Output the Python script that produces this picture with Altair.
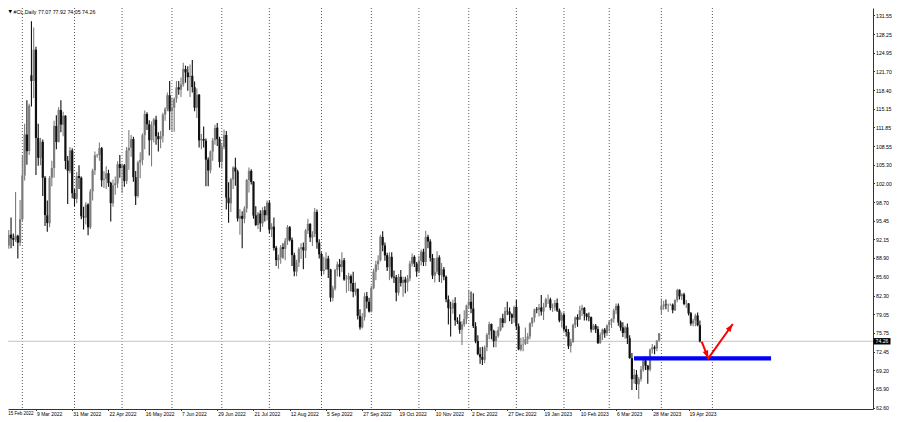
import math
import altair as alt
import pandas as pd

# ---------------- data (daily OHLC, #CL) ----------------
opens = [
    95.0, 92.1, 93.7, 91.8, 91.1, 93.0, 92.4, 92.1, 92.8, 91.6,
    95.7, 103.4, 110.6, 107.7, 121.0, 120.0, 125.5, 110.0, 106.5, 109.3,
    103.0, 96.4, 95.0, 103.0, 104.7, 112.1, 109.3, 114.9, 112.3, 113.9,
    106.0, 104.2, 107.8, 100.3, 99.3, 103.3, 103.0, 96.2, 96.0, 98.3,
    94.3, 100.6, 104.3, 106.9, 107.0, 108.2, 102.6, 102.8, 103.8, 102.1,
    98.5, 101.7, 102.0, 105.4, 104.7, 105.2, 102.4, 107.8, 108.3, 109.8,
    103.1, 99.8, 105.7, 106.1, 110.5, 114.2, 112.4, 109.6, 112.2, 113.2,
    110.3, 109.8, 110.3, 114.1, 115.1, 117.5, 114.7, 115.3, 116.9, 118.9,
    118.5, 119.4, 122.1, 121.5, 120.7, 120.9, 118.9, 115.3, 117.6, 109.6,
    109.8, 109.5, 106.2, 104.3, 107.6, 109.6, 111.8, 109.8, 105.8, 108.4,
    110.5, 99.5, 98.5, 102.7, 104.8, 104.1, 95.8, 96.3, 95.8, 97.6,
    102.6, 104.2, 102.3, 96.4, 94.7, 96.7, 95.0, 97.3, 96.4, 98.6,
    93.9, 94.4, 90.7, 88.5, 89.0, 90.8, 90.5, 91.9, 94.3, 92.1,
    89.4, 86.5, 88.1, 90.5, 90.8, 90.2, 93.7, 94.9, 92.5, 93.1,
    97.0, 91.6, 89.6, 86.6, 86.9, 88.8, 86.9, 81.9, 83.5, 86.8,
    87.8, 87.3, 88.5, 85.1, 85.1, 85.7, 84.5, 82.9, 83.5, 78.7,
    76.7, 78.5, 82.2, 81.2, 79.5, 83.6, 86.5, 87.8, 88.5, 92.6,
    91.1, 89.4, 87.3, 89.1, 85.6, 85.5, 82.8, 85.6, 84.5, 85.1,
    84.6, 85.3, 87.9, 89.1, 87.9, 86.5, 88.4, 90.0, 88.2, 92.6,
    91.8, 88.9, 85.8, 86.5, 89.0, 85.9, 86.9, 85.6, 81.6, 80.1,
    80.0, 81.0, 77.9, 77.7, 76.3, 77.2, 78.2, 80.6, 81.2, 80.0,
    76.9, 74.3, 72.0, 71.5, 71.0, 73.2, 75.4, 77.3, 76.1, 74.3,
    75.2, 76.2, 78.3, 77.5, 79.6, 79.5, 79.0, 78.4, 80.3, 76.9,
    72.8, 73.7, 73.8, 74.6, 75.1, 77.4, 78.4, 79.9, 79.8, 80.2,
    79.5, 80.3, 81.6, 81.6, 80.1, 80.2, 81.0, 79.7, 77.9, 78.9,
    76.4, 75.9, 73.4, 74.1, 77.1, 78.5, 78.1, 79.7, 80.1, 79.1,
    78.6, 78.5, 76.3, 77.0, 76.4, 74.0, 75.4, 76.3, 75.7, 77.1,
    77.7, 78.2, 79.7, 80.5, 77.6, 76.7, 75.7, 76.7, 74.8, 71.3,
    67.6, 68.4, 66.7, 67.6, 69.3, 70.9, 70.0, 69.3, 72.8, 73.2,
    73.0, 74.4, 79.8, 80.4, 80.7, 80.6, 80.7, 80.7, 79.7, 81.5,
    83.3, 82.2, 82.5, 80.8, 80.9, 79.2, 77.4, 77.9, 78.8, 77.07,
]
highs = [
    95.1, 94.0, 93.9, 92.3, 93.8, 96.0, 93.2, 100.5, 93.0, 99.1,
    106.8, 112.5, 116.6, 116.0, 130.5, 129.4, 126.0, 112.5, 110.0, 109.7,
    103.3, 99.0, 103.3, 106.0, 113.0, 114.0, 115.4, 116.6, 114.6, 114.0,
    106.8, 108.4, 108.2, 101.0, 104.0, 105.2, 103.2, 97.9, 98.7, 98.5,
    101.0, 104.6, 107.6, 107.2, 109.2, 108.4, 104.2, 105.0, 104.4, 102.3,
    102.7, 103.2, 105.9, 107.0, 105.5, 105.4, 108.4, 111.4, 110.5, 110.2,
    104.2, 106.0, 107.5, 110.8, 114.8, 114.5, 113.1, 112.9, 113.5, 113.9,
    111.0, 111.2, 114.4, 115.4, 118.0, 120.0, 117.1, 117.1, 120.0, 120.0,
    120.6, 123.2, 122.7, 122.6, 122.9, 123.7, 119.9, 118.7, 117.7, 110.7,
    112.0, 109.9, 106.6, 107.8, 110.0, 112.3, 112.6, 110.2, 109.0, 111.5,
    111.2, 102.2, 103.0, 105.0, 106.5, 104.4, 97.5, 97.1, 98.0, 102.8,
    104.8, 104.5, 102.4, 98.0, 97.0, 97.3, 97.8, 98.0, 99.0, 99.0,
    95.0, 96.0, 91.0, 89.5, 91.2, 91.5, 92.4, 94.7, 94.5, 92.5,
    89.8, 88.6, 90.8, 91.5, 91.6, 94.0, 95.8, 95.0, 93.6, 97.7,
    97.4, 92.2, 89.9, 89.1, 89.9, 89.3, 87.0, 84.0, 87.0, 88.3,
    88.7, 89.9, 88.9, 85.9, 86.3, 86.0, 86.5, 84.6, 83.5, 79.9,
    79.2, 82.8, 82.9, 81.9, 84.0, 87.0, 88.4, 89.4, 93.0, 93.6,
    91.6, 89.8, 89.9, 89.9, 86.7, 85.9, 86.1, 86.8, 85.6, 85.6,
    85.9, 88.4, 89.7, 89.4, 88.2, 89.3, 90.4, 90.5, 93.7, 93.0,
    92.2, 89.6, 88.9, 90.1, 89.4, 88.0, 87.3, 85.8, 82.3, 81.2,
    81.6, 82.0, 78.5, 79.0, 77.8, 79.7, 80.7, 83.3, 83.0, 82.7,
    77.6, 75.3, 73.2, 73.3, 73.5, 75.7, 77.7, 77.4, 76.3, 76.1,
    76.8, 78.4, 79.1, 80.3, 81.2, 80.2, 79.2, 80.5, 81.5, 77.4,
    74.9, 75.0, 76.7, 75.7, 77.6, 78.5, 80.0, 80.3, 80.8, 82.4,
    81.0, 81.9, 82.5, 81.9, 80.9, 81.5, 81.8, 80.0, 79.3, 79.3,
    77.0, 76.4, 74.7, 77.4, 78.6, 79.0, 80.5, 80.7, 80.3, 79.2,
    79.3, 78.6, 77.3, 77.3, 76.9, 75.8, 76.5, 76.6, 77.2, 78.0,
    78.3, 80.0, 80.9, 80.9, 77.9, 77.6, 77.0, 77.4, 75.3, 72.2,
    69.4, 69.2, 68.0, 69.9, 71.6, 71.6, 70.1, 73.0, 73.8, 73.5,
    74.5, 75.7, 81.8, 81.4, 81.6, 80.9, 80.9, 80.9, 81.6, 83.5,
    83.4, 82.7, 82.8, 81.5, 81.0, 79.4, 78.2, 79.1, 79.3, 77.92,
]
lows = [
    91.3, 91.6, 89.6, 89.8, 90.5, 90.6, 91.0, 91.7, 88.8, 91.0,
    95.3, 102.5, 105.3, 107.0, 115.5, 117.0, 103.5, 105.1, 105.2, 99.8,
    94.5, 93.5, 94.3, 101.5, 103.0, 108.0, 109.2, 111.0, 110.3, 104.5,
    98.4, 103.8, 99.4, 98.0, 98.5, 101.0, 95.7, 93.9, 94.8, 92.9,
    94.0, 99.0, 103.5, 106.5, 106.0, 101.4, 101.2, 101.0, 101.4, 95.3,
    97.9, 100.0, 101.2, 103.0, 100.3, 101.4, 101.9, 104.4, 106.7, 102.3,
    98.2, 99.5, 102.9, 105.2, 108.0, 111.4, 106.9, 105.0, 109.2, 108.8,
    107.6, 108.2, 109.2, 113.0, 114.7, 111.4, 111.1, 111.1, 116.2, 117.6,
    117.2, 119.0, 119.7, 118.3, 117.2, 118.0, 114.7, 113.5, 108.3, 108.0,
    108.3, 101.5, 101.5, 103.8, 106.0, 108.8, 108.6, 104.8, 104.6, 108.0,
    97.4, 95.1, 97.0, 101.0, 101.6, 95.3, 93.0, 90.6, 95.0, 96.9,
    100.4, 101.8, 95.8, 94.5, 94.0, 93.5, 94.4, 95.3, 95.5, 93.2,
    92.6, 90.2, 87.5, 87.0, 87.9, 88.8, 88.5, 91.2, 91.8, 87.5,
    85.7, 85.7, 87.3, 88.7, 86.9, 88.9, 93.1, 91.7, 91.0, 92.6,
    90.5, 88.8, 85.7, 86.0, 86.8, 85.4, 81.2, 81.3, 83.2, 85.7,
    85.6, 86.4, 84.9, 82.8, 83.1, 83.0, 82.0, 82.3, 78.1, 76.3,
    76.5, 77.9, 80.0, 79.3, 79.3, 83.4, 85.0, 86.8, 88.3, 90.1,
    88.4, 86.6, 85.0, 85.3, 84.5, 81.3, 82.3, 83.9, 82.1, 82.7,
    83.0, 84.8, 87.4, 87.3, 85.6, 86.2, 87.6, 87.5, 87.5, 90.6,
    88.3, 85.2, 84.6, 86.1, 84.7, 84.5, 85.0, 81.1, 77.2, 75.1,
    79.1, 77.0, 77.3, 75.6, 73.6, 76.8, 77.3, 80.1, 79.2, 76.6,
    73.9, 71.8, 70.3, 70.1, 70.4, 72.5, 74.6, 74.6, 73.2, 73.2,
    74.9, 76.0, 76.7, 77.4, 78.9, 77.8, 77.3, 77.5, 76.3, 72.7,
    72.5, 72.5, 73.6, 73.8, 74.6, 76.8, 77.6, 79.2, 78.6, 78.8,
    78.0, 80.2, 80.8, 79.7, 79.4, 79.6, 79.4, 77.6, 76.7, 76.0,
    75.1, 72.9, 72.3, 74.0, 76.6, 76.8, 78.0, 78.7, 77.9, 77.9,
    77.8, 75.8, 76.2, 75.7, 73.8, 73.8, 74.5, 74.9, 75.2, 76.0,
    76.6, 77.5, 79.0, 77.0, 76.1, 75.0, 74.7, 73.8, 71.2, 65.7,
    66.8, 65.7, 64.1, 67.2, 68.9, 69.2, 66.8, 69.0, 72.1, 72.0,
    72.5, 74.2, 79.0, 79.8, 79.9, 79.4, 80.5, 79.2, 79.6, 81.1,
    81.6, 81.5, 80.6, 80.1, 78.8, 77.0, 76.9, 76.9, 76.9, 74.05,
]
closes = [
    92.07, 93.66, 91.76, 91.07, 93.0, 92.35, 92.10, 92.81, 91.59, 95.72,
    103.41, 110.60, 107.67, 115.68, 120.0, 125.5, 110.0, 106.5, 109.33, 103.01,
    96.44, 95.04, 102.98, 104.70, 112.12, 109.27, 114.93, 112.34, 113.90, 105.96,
    104.24, 107.82, 100.28, 99.27, 103.28, 102.96, 96.23, 96.03, 98.26, 94.29,
    100.60, 104.25, 106.95, 107.0, 108.21, 102.56, 102.75, 103.79, 102.07, 98.54,
    101.70, 102.02, 105.36, 104.69, 105.17, 102.41, 107.81, 108.26, 109.77, 103.09,
    99.76, 105.71, 106.13, 110.49, 114.20, 112.40, 109.59, 112.21, 113.23, 110.29,
    109.77, 110.33, 114.09, 115.07, 117.5, 114.67, 115.26, 116.87, 118.87, 118.50,
    119.41, 122.11, 121.51, 120.67, 120.93, 118.93, 115.31, 117.59, 109.56, 109.8,
    109.52, 106.19, 104.27, 107.62, 109.57, 111.76, 109.78, 105.76, 108.43, 110.5,
    99.50, 98.53, 102.73, 104.79, 104.09, 95.84, 96.30, 95.78, 97.59, 102.60,
    104.22, 102.26, 96.35, 94.70, 96.70, 94.98, 97.26, 96.42, 98.62, 93.89,
    94.42, 90.66, 88.54, 89.01, 90.76, 90.50, 91.93, 94.34, 92.09, 89.41,
    86.53, 88.11, 90.50, 90.77, 90.23, 93.74, 94.89, 92.52, 93.06, 97.01,
    91.64, 89.55, 86.61, 86.87, 88.8, 86.88, 81.94, 83.54, 86.79, 87.78,
    87.31, 88.48, 85.10, 85.11, 85.73, 84.45, 82.94, 83.49, 78.74, 76.71,
    78.50, 82.15, 81.23, 79.49, 83.63, 86.52, 87.76, 88.45, 92.64, 91.13,
    89.35, 87.27, 89.11, 85.61, 85.46, 82.82, 85.55, 84.51, 85.05, 84.58,
    85.32, 87.91, 89.08, 87.90, 86.53, 88.37, 90.00, 88.17, 92.61, 91.79,
    88.91, 85.83, 86.47, 88.96, 85.87, 86.92, 85.59, 81.64, 80.08, 80.04,
    80.95, 77.94, 77.7, 76.28, 77.24, 78.20, 80.55, 81.22, 79.98, 76.93,
    74.25, 72.01, 71.46, 71.02, 73.17, 75.39, 77.28, 76.11, 74.29, 75.19,
    76.23, 78.29, 77.49, 79.56, 79.53, 78.96, 78.40, 80.26, 76.93, 72.84,
    73.67, 73.77, 74.63, 75.12, 77.41, 78.39, 79.86, 79.8, 80.18, 79.48,
    80.33, 81.64, 81.62, 80.13, 80.15, 81.01, 79.68, 77.90, 78.87, 76.41,
    75.88, 73.39, 74.11, 77.14, 78.47, 78.06, 79.72, 80.14, 79.06, 78.59,
    78.49, 76.34, 77.0, 76.36, 73.95, 75.39, 76.32, 75.68, 77.05, 77.69,
    78.16, 79.68, 80.46, 77.58, 76.66, 75.72, 76.68, 74.80, 71.33, 67.61,
    68.35, 66.74, 67.64, 69.33, 70.90, 69.96, 69.26, 72.81, 73.20, 72.97,
    74.37, 75.67, 80.42, 80.71, 80.61, 80.70, 80.7, 79.74, 81.53, 83.26,
    82.16, 82.52, 80.83, 80.86, 79.16, 77.37, 77.87, 78.76, 77.07, 74.26,
]

# time axis: a label every 16 bars
x_label_bars = [0, 16, 32, 48, 64, 80, 96, 112, 128, 144, 160, 176, 192, 208, 224, 240, 256, 272, 288, 304]
x_labels = ["15 Feb 2022", "9 Mar 2022", "31 Mar 2022", "22 Apr 2022", "16 May 2022",
            "7 Jun 2022", "29 Jun 2022", "21 Jul 2022", "12 Aug 2022", "5 Sep 2022",
            "27 Sep 2022", "19 Oct 2022", "10 Nov 2022", "2 Dec 2022", "27 Dec 2022",
            "19 Jan 2023", "10 Feb 2023", "6 Mar 2023", "28 Mar 2023", "19 Apr 2023"]
# vertical dotted grid (first bar of each month)
grid_bars = [10, 33, 54, 76, 98, 119, 142, 164, 185, 207, 228, 249, 269, 292, 314.5]
# price axis
y_ticks = [131.55, 128.25, 124.95, 121.70, 118.40, 115.15, 111.85, 108.55, 105.30, 102.00,
           98.70, 95.45, 92.15, 88.90, 85.60, 82.30, 79.05, 75.75, 72.45, 69.20, 65.90, 62.60]
bid_price = 74.26
header_mark = "\u25bc"
header = "#CL,Daily  77.07 77.92 74.05 74.26"
# drawn objects
level_price = 71.25
level_from, level_to = 279.9, 340.4
arrow_bars = [309.8, 312.7, 323.5]
arrow_prices = [74.2, 71.25, 77.3]

# ---------------- layout ----------------
# visible window of the chart (bars, price)
x_dom = [3.66, 385.39]
y_dom = [62.36, 132.83]
W, H = 865, 401          # plot area
PAD_R, PAD_B = 19, 8     # room for the price scale and the time labels
PX_BAR = W / (x_dom[1] - x_dom[0])
PX_USD = H / (y_dom[1] - y_dom[0])
FONT = "Liberation Sans"

xs = alt.Scale(domain=x_dom, nice=False, zero=False)
ys = alt.Scale(domain=y_dom, nice=False, zero=False)

x_axis = alt.Axis(values=x_label_bars, labels=False, ticks=True, tickSize=1.5, tickColor="#333",
                  domainColor="#333", domainWidth=1, grid=False, title=None)
y_axis = alt.Axis(orient="right", values=y_ticks, format=".2f", labelAlign="left", labelPadding=1,
                  tickSize=1.5, tickColor="#333", domainColor="#333", domainWidth=1, grid=False,
                  title=None, labelFont=FONT, labelFontSize=5.2, labelColor="#000",
                  labelOverlap=False, labelFlush=False, labelBaseline="middle")


def X(field):
    return alt.X(field, scale=xs, axis=x_axis)


def Y(field):
    return alt.Y(field, scale=ys, axis=y_axis)


n = len(closes)
df = pd.DataFrame({"i": list(range(n)), "o": opens, "h": highs, "l": lows, "c": closes})
df["dir"] = ["up" if c >= o else "down" for o, c in zip(opens, closes)]
col = alt.Color("dir:N", scale=alt.Scale(domain=["up", "down"], range=["#7c7c7c", "#111111"]), legend=None)

grid = alt.Chart(pd.DataFrame({"g": grid_bars})).mark_rule(
    color="#5a5a5a", strokeWidth=1, strokeDash=[1, 2], clip=True
).encode(x=X("g:Q"))

bid = alt.Chart(pd.DataFrame({"p": [bid_price]})).mark_rule(color="#c4c4c4", strokeWidth=1).encode(
    y=Y("p:Q"))

wicks = alt.Chart(df).mark_rule(strokeWidth=1.1, clip=True).encode(
    x=X("i:Q"), y=Y("l:Q"), y2="h:Q", color=col)
bodies = alt.Chart(df).mark_rule(strokeWidth=2.2, clip=True).encode(
    x=X("i:Q"), y=Y("o:Q"), y2="c:Q", color=col)

level = alt.Chart(pd.DataFrame({"a": [level_from], "b": [level_to], "p": [level_price]})).mark_rule(
    color="#0000ff", strokeWidth=4.4, clip=True
).encode(x=X("a:Q"), x2="b:Q", y=Y("p:Q"))

adf = pd.DataFrame({"x": arrow_bars, "y": arrow_prices, "k": [0, 1, 2]})
arrow_line = alt.Chart(adf).mark_line(color="#ff0000", strokeWidth=2, clip=True).encode(
    x=X("x:Q"), y=Y("y:Q"), order="k:Q")


def heading(xa, ya, xb, yb):
    dx = (xb - xa) * PX_BAR
    dy = -(yb - ya) * PX_USD
    return math.degrees(math.atan2(dx, -dy)) % 360


heads = pd.DataFrame({
    "x": [arrow_bars[1], arrow_bars[2]],
    "y": [arrow_prices[1], arrow_prices[2]],
    "ang": [heading(arrow_bars[0], arrow_prices[0], arrow_bars[1], arrow_prices[1]),
            heading(arrow_bars[1], arrow_prices[1], arrow_bars[2], arrow_prices[2])],
})
arrow_heads = alt.Chart(heads).mark_point(
    shape="M0,0L1,2.8L-1,2.8Z", filled=True, color="#ff0000", size=32, opacity=1, strokeWidth=0
).encode(x=X("x:Q"), y=Y("y:Q"), angle=alt.Angle("ang:Q", scale=None))

LABEL_Y = H + 4.8
xl = alt.Chart(pd.DataFrame({"i": x_label_bars[1:], "t": x_labels[1:]})).mark_text(
    align="left", baseline="middle", font=FONT, fontSize=5.0, color="#000", dx=1
).encode(x=X("i:Q"), y=alt.value(LABEL_Y), text="t:N")
# first time label sits at the very left edge of the drawing
xl0 = alt.Chart(pd.DataFrame({"t": [x_labels[0]]})).mark_text(
    align="left", baseline="middle", font=FONT, fontSize=4.5, color="#000"
).encode(x=alt.value(0.3), y=alt.value(LABEL_Y), text="t:N")

head0 = alt.Chart(pd.DataFrame({"t": [header_mark]})).mark_text(
    align="left", baseline="middle", font="DejaVu Sans", fontSize=4.5, color="#000"
).encode(x=alt.value(0.5), y=alt.value(3.6), text="t:N")
head = alt.Chart(pd.DataFrame({"t": [header]})).mark_text(
    align="left", baseline="middle", font=FONT, fontSize=5.3, color="#000"
).encode(x=alt.value(5.5), y=alt.value(3.6), text="t:N")

half = 3.2 / PX_USD
pbox = alt.Chart(pd.DataFrame({"hi": [bid_price + half], "lo": [bid_price - half]})).mark_rect(
    color="#000000"
).encode(x=alt.value(W + 0.5), x2=alt.value(W + 17.5), y=Y("hi:Q"), y2="lo:Q")
ptxt = alt.Chart(pd.DataFrame({"p": [bid_price], "t": [f"{bid_price:.2f}"]})).mark_text(
    align="left", baseline="middle", font=FONT, fontSize=5.2, color="#ffffff"
).encode(x=alt.value(W + 2.5), y=Y("p:Q"), text="t:N")

chart = alt.layer(grid, bid, wicks, bodies, level, arrow_line, arrow_heads,
                  xl, xl0, head0, head, pbox, ptxt).properties(
    width=W, height=H, autosize="none",
    padding={"left": 0, "top": 0, "right": PAD_R, "bottom": PAD_B},
    background="#ffffff",
).configure_view(strokeWidth=0)

chart.save("out.html", embed_options={"renderer": "svg", "actions": False})
